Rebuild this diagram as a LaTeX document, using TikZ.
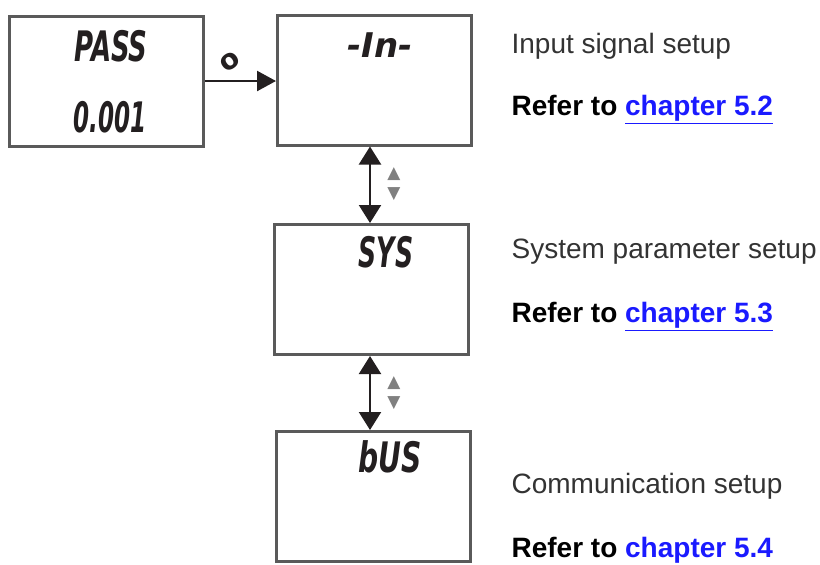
\documentclass[tikz,border=0pt]{standalone}
\usepackage{fontspec}
\setmainfont{Liberation Sans}
\newfontfamily\segfont{DejaVu Sans}
\usetikzlibrary{arrows.meta,positioning}
\definecolor{boxgray}{HTML}{5A5A5A}
\definecolor{inkdark}{HTML}{231F20}
\definecolor{linkblue}{HTML}{1A1AFF}
\definecolor{textgray}{HTML}{333333}
\newcommand{\lcd}[2]{\scalebox{#1}[1]{#2}}
\newcommand{\chap}[1]{\textcolor{linkblue}{\underline{chapter #1}}}

\begin{document}
\begin{tikzpicture}[x=0.5pt,y=-0.5pt
	,>={Triangle[length=9.5pt,width=10pt]}
	,semithick]
  \tikzstyle{menu}=[draw=boxgray,line width=1.5pt,minimum width=97pt,minimum height=65pt,inner sep=0pt]
  \tikzstyle{lcdtext}=[font=\segfont\bfseries\itshape\fontsize{21}{21}\selectfont,text=inkdark,inner sep=0pt]
  \tikzstyle{keys}=[font=\segfont\fontsize{8.5}{10}\selectfont,text=gray,align=center,inner sep=0pt]
  \tikzstyle{note}=[anchor=base west,inner sep=0pt,font=\fontsize{14}{16}\selectfont,text=textgray]
  \tikzstyle{refer}=[note,font=\bfseries\fontsize{14}{16}\selectfont,text=black]
  \tikzstyle{updown}=[<->,inkdark,line width=1.1pt,>={Triangle[length=9pt,width=11pt]}]

  \useasboundingbox (0,0) rectangle (820,564);

  % menu boxes
  \node[menu] (pass) at (106.5,81)  {};
  \node[menu] (inp)  at (374.5,80)  {};
  \node[menu] (sys)  at (371.5,289.5) {};
  \node[menu] (bus)  at (373,496.5) {};

  % display texts
  \node[lcdtext] (passtxt) at (111,46)  {\lcd{0.62}{PASS}};
  \node[lcdtext] (codetxt) at (110,117) {\lcd{0.55}{0.001}};
  \node[lcdtext,font=\segfont\bfseries\itshape\fontsize{17}{17}\selectfont] (inptxt) at (380,45) {-In-};
  \node[lcdtext] (systxt)  at (386,252) {\lcd{0.6}{SYS}};
  \node[lcdtext] (bustxt)  at (390,457) {\lcd{0.67}{bUS}};

  % enter key
  \draw[->,inkdark,line width=1.2pt] (pass.east) -- (pass.east -| inp.west);
  \node[lcdtext,font=\segfont\bfseries\fontsize{14}{14}\selectfont,rotate=35] (enter) at (230,62) {o};

  % up/down keys
  \draw[updown] (inp.south -| 370,0) -- (sys.north -| 370,0);
  \draw[updown] (sys.south -| 370,0) -- (bus.north -| 370,0);
  \node[keys] (keys1) at (394,184)   {▲\\▼};
  \node[keys] (keys2) at (394,393.5) {▲\\▼};

  % notes
  \node[note]  (inpnote) at (511,53)  {Input signal setup};
  \node[refer] (inpref)  at (511,115) {Refer to \chap{5.2}};
  \node[note]  (sysnote) at (511,258) {System parameter setup};
  \node[refer] (sysref)  at (511,322) {Refer to \chap{5.3}};
  \node[note]  (busnote) at (511,493) {Communication setup};
  \node[refer] (busref)  at (511,557) {Refer to \chap{5.4}};
\end{tikzpicture}
\end{document}
